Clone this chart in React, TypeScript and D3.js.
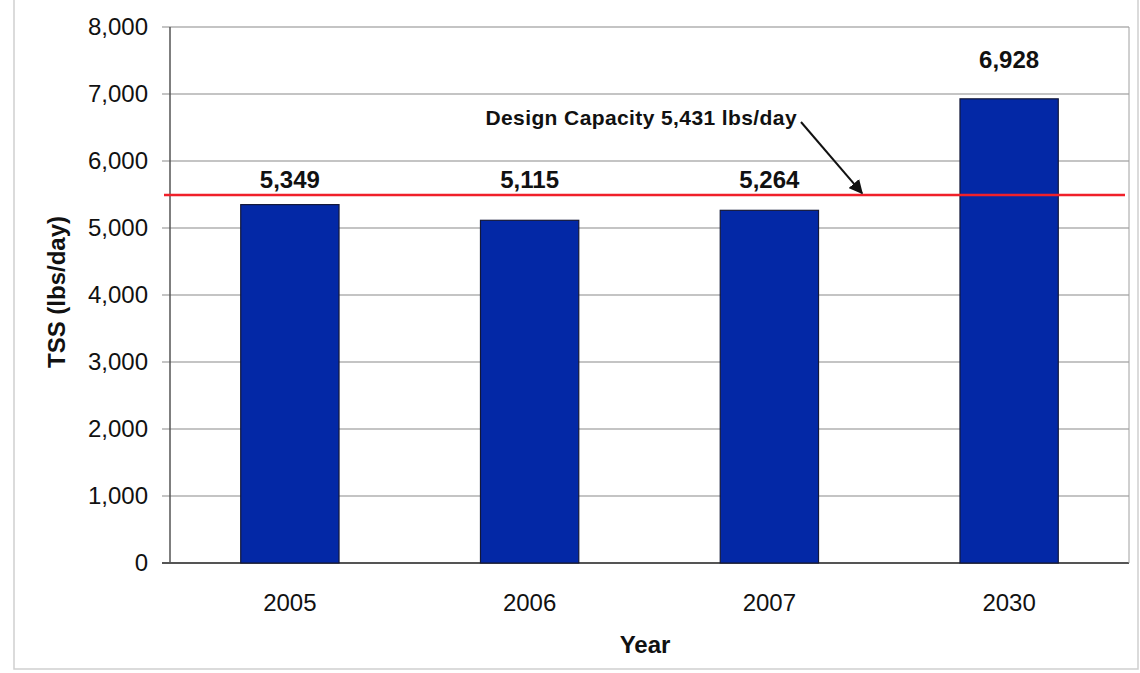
import React from "react";
import * as d3 from "d3";

const years = ["2005", "2006", "2007", "2030"];
const tss = [5349, 5115, 5264, 6928];
const designCapacity = 5431;
const yTicks = [0, 1000, 2000, 3000, 4000, 5000, 6000, 7000, 8000];
const annotation = "Design Capacity 5,431 lbs/day";

const W = 1140, H = 673;
const M = { left: 170, right: 1129, top: 27, bottom: 563 };
const FONT = "'Liberation Sans', Arial, sans-serif";

export default function App() {
  const x = d3.scaleBand<string>().domain(years).range([M.left, M.right]).paddingInner(0.59).paddingOuter(0.295);
  const y = d3.scaleLinear().domain([0, 8000]).range([M.bottom, M.top]);
  const fmt = d3.format(",");
  const lineY = y(designCapacity) - 4;
  const arrowEnd = { x: 862, y: lineY - 2 };
  const arrowStart = { x: 801, y: 122 };
  const labelY = (v: number) => (v > designCapacity ? y(v) - 39 : lineY - 16);
  return (
    <svg width={W} height={H} style={{ position: "absolute", left: 0, top: 0, background: "#fff" }}>
      <defs>
        <marker id="ah" viewBox="0 0 10 10" refX="9" refY="5" markerWidth="7" markerHeight="7" orient="auto">
          <path d="M0,0 L10,5 L0,10 z" fill="#111" />
        </marker>
      </defs>
      <rect x={14} y={-2} width={1124} height={671} fill="#fff" stroke="#cfcfcf" strokeWidth={1.5} />
      {yTicks.map((t) => (
        <g key={t}>
          <line x1={M.left - 8} x2={M.right} y1={y(t)} y2={y(t)} stroke={t === 0 ? "#555" : "#8a8a8a"} strokeWidth={t === 0 ? 2 : 1.2} />
          <text x={M.left - 22} y={y(t)} dy="0.35em" textAnchor="end" fontFamily={FONT} fontSize={24} fill="#111">
            {fmt(t)}
          </text>
        </g>
      ))}
      <line x1={M.left} x2={M.left} y1={M.top} y2={M.bottom} stroke="#555" strokeWidth={1.5} />
      <line x1={M.right} x2={M.right} y1={M.top} y2={M.bottom} stroke="#a0a0a0" strokeWidth={1} />
      {years.map((yr, i) => (
        <g key={yr}>
          <rect x={x(yr)} y={y(tss[i])} width={x.bandwidth()} height={M.bottom - y(tss[i])} fill="#0328a6" stroke="#141838" strokeWidth={1.2} />
          <text x={(x(yr) as number) + x.bandwidth() / 2} y={labelY(tss[i])} dy="0.35em" textAnchor="middle" fontFamily={FONT} fontWeight="bold" fontSize={24} fill="#111">
            {fmt(tss[i])}
          </text>
          <text x={(x(yr) as number) + x.bandwidth() / 2} y={603} dy="0.35em" textAnchor="middle" fontFamily={FONT} fontSize={24} fill="#111">
            {yr}
          </text>
        </g>
      ))}
      <line x1={M.left - 6} x2={M.right - 4} y1={lineY} y2={lineY} stroke="#f0202a" strokeWidth={2.5} />
      <text x={797} y={118} dy="0.35em" textAnchor="end" fontFamily={FONT} fontWeight="bold" fontSize={21} letterSpacing={0.4} fill="#111">
        {annotation}
      </text>
      <line x1={arrowStart.x} y1={arrowStart.y} x2={arrowEnd.x} y2={arrowEnd.y} stroke="#111" strokeWidth={2} markerEnd="url(#ah)" />
      <text transform={`translate(57,${292}) rotate(-90)`} textAnchor="middle" dy="0.35em" fontFamily={FONT} fontWeight="bold" fontSize={24} fill="#111">
        TSS (lbs/day)
      </text>
      <text x={645} y={645} dy="0.35em" textAnchor="middle" fontFamily={FONT} fontWeight="bold" fontSize={24} fill="#111">
        Year
      </text>
    </svg>
  );
}
